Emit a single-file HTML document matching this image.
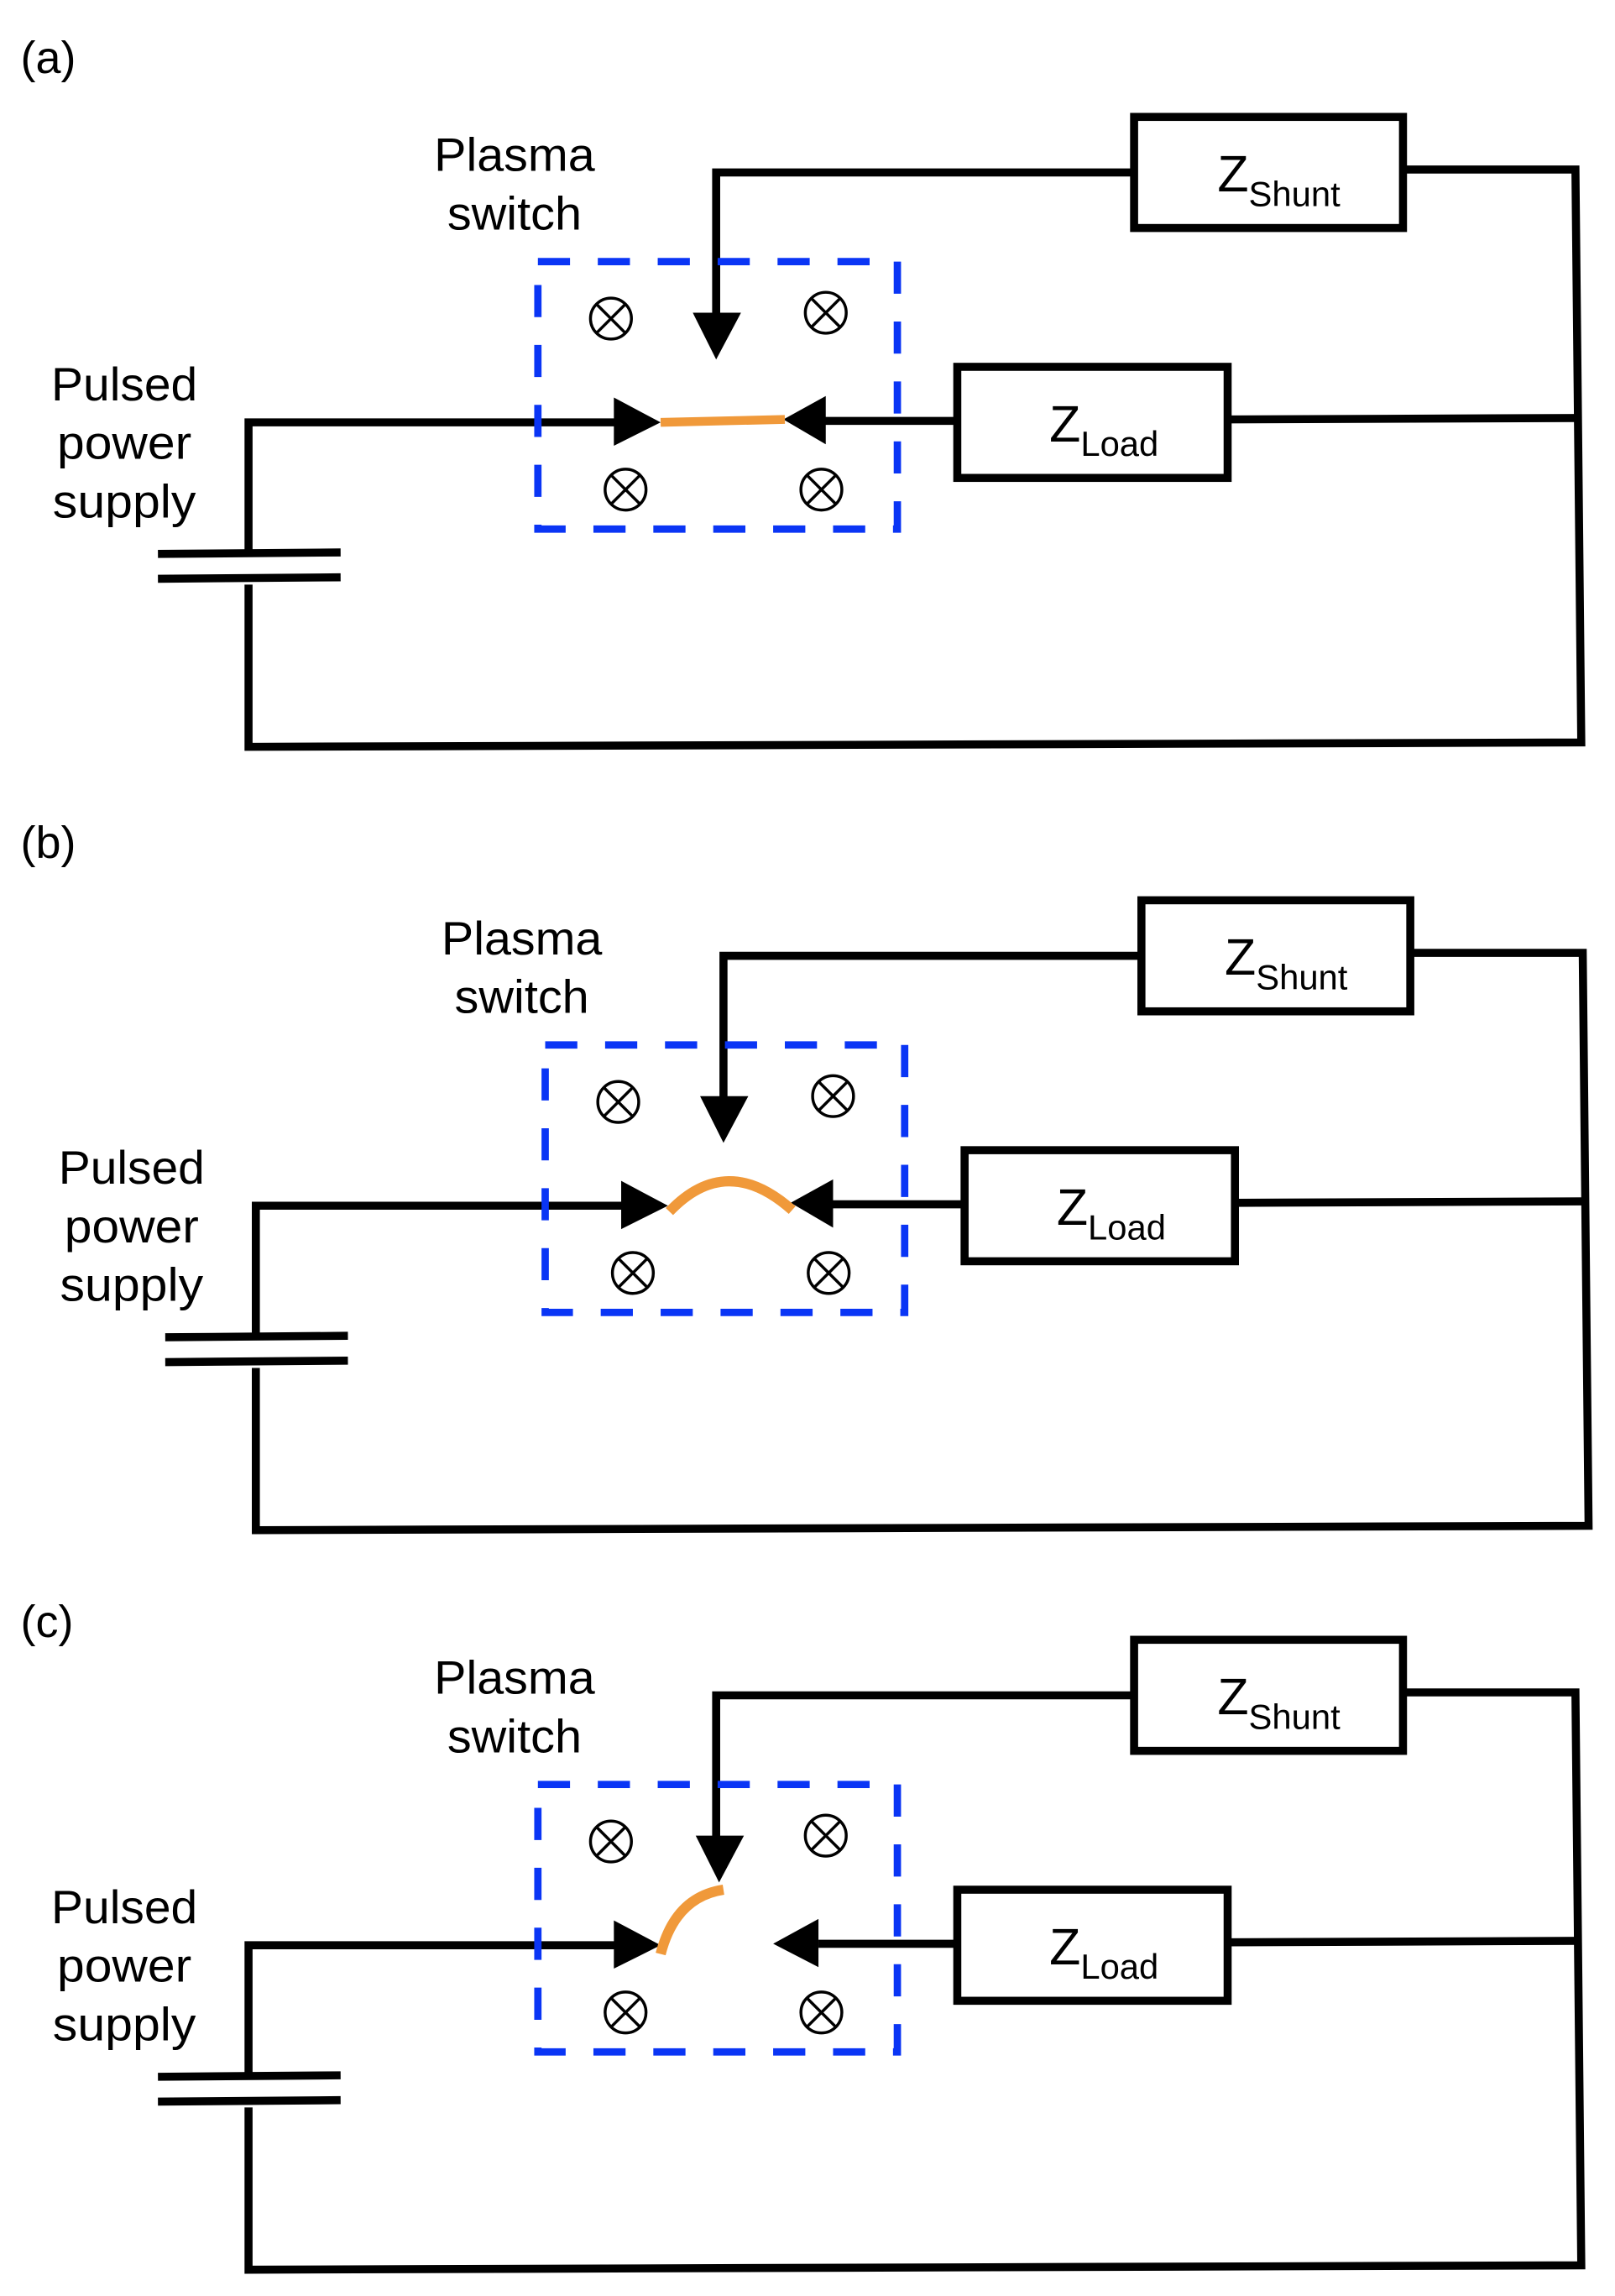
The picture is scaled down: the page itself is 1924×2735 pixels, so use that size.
<!DOCTYPE html>
<html><head><meta charset="utf-8"><style>
html,body{margin:0;padding:0;background:#fff;}
svg{display:block;}
text{font-family:"Liberation Sans",Arial,sans-serif;fill:#000;}
</style></head><body>
<svg width="1924" height="2735" viewBox="0 0 1105 1571" xmlns="http://www.w3.org/2000/svg">
<defs>
<g id="ot"><circle r="14" fill="none" stroke="#000" stroke-width="2"/><path d="M-9.5,-9.5L9.5,9.5M9.5,-9.5L-9.5,9.5" stroke="#000" stroke-width="2"/></g>
<g id="base">
  <g stroke="#000" stroke-width="5.5" fill="none">
    <rect x="776" y="80" width="184" height="76"/>
    <rect x="655" y="251" width="185" height="76"/>
    <polyline points="776,118 490,118 490,215"/>
    <polyline points="960,116 1078,116 1082,508 170,511 170,400"/>
    <line x1="840" y1="287" x2="1080" y2="286"/>
    <polyline points="170,380 170,289 425,289"/>
    <line x1="560" y1="288" x2="655" y2="288"/>
    <line x1="108" y1="379" x2="233" y2="378"/>
    <line x1="108" y1="396" x2="233" y2="395"/>
  </g>
  <rect x="368" y="179" width="246" height="183" fill="none" stroke="#0a35f5" stroke-width="5" stroke-dasharray="22,19"/>
  <use href="#ot" x="418" y="218"/><use href="#ot" x="565" y="214"/>
  <use href="#ot" x="428" y="335"/><use href="#ot" x="562" y="335"/>
  <text x="352" y="117" font-size="32" text-anchor="middle" textLength="110" lengthAdjust="spacingAndGlyphs">Plasma</text>
  <text x="352" y="157" font-size="32" text-anchor="middle" textLength="92" lengthAdjust="spacingAndGlyphs">switch</text>
  <text x="85" y="274" font-size="32" text-anchor="middle" textLength="100" lengthAdjust="spacingAndGlyphs">Pulsed</text>
  <text x="85" y="314" font-size="32" text-anchor="middle" textLength="92" lengthAdjust="spacingAndGlyphs">power</text>
  <text x="85" y="354" font-size="32" text-anchor="middle" textLength="98" lengthAdjust="spacingAndGlyphs">supply</text>
  <text x="833" y="131" font-size="35">Z<tspan font-size="24" dy="10">Shunt</tspan></text>
  <text x="718" y="302" font-size="35">Z<tspan font-size="24" dy="10">Load</tspan></text>
</g>
</defs>
<text x="14" y="50" font-size="31">(a)</text>
<text x="14" y="587" font-size="31">(b)</text>
<text x="14" y="1120" font-size="31">(c)</text>

<g>
  <use href="#base"/>
  <polygon points="474,214 507,214 490,246" fill="#000"/>
  <polygon points="420,272 420,305 452,289" fill="#000"/>
  <polygon points="565,271 565,304 536,287" fill="#000"/>
  <line x1="452" y1="289" x2="537" y2="287" stroke="#f0993a" stroke-width="6"/>
</g>
<g transform="translate(5,536)">
  <use href="#base"/>
  <polygon points="474,214 507,214 490,246" fill="#000"/>
  <polygon points="420,272 420,305 452,289" fill="#000"/>
  <polygon points="565,271 565,304 536,287" fill="#000"/>
  <path d="M453,293 Q492,252 537,292" fill="none" stroke="#f0993a" stroke-width="7"/>
</g>
<g transform="translate(0,1042)">
  <use href="#base"/>
  <polygon points="476,214 509,214 492,246" fill="#000"/>
  <polygon points="420,272 420,305 452,289" fill="#000"/>
  <polygon points="560,271 560,304 529,288" fill="#000"/>
  <path d="M452,295 Q462,256 495,251" fill="none" stroke="#f0993a" stroke-width="7"/>
</g>
</svg>
</body></html>
